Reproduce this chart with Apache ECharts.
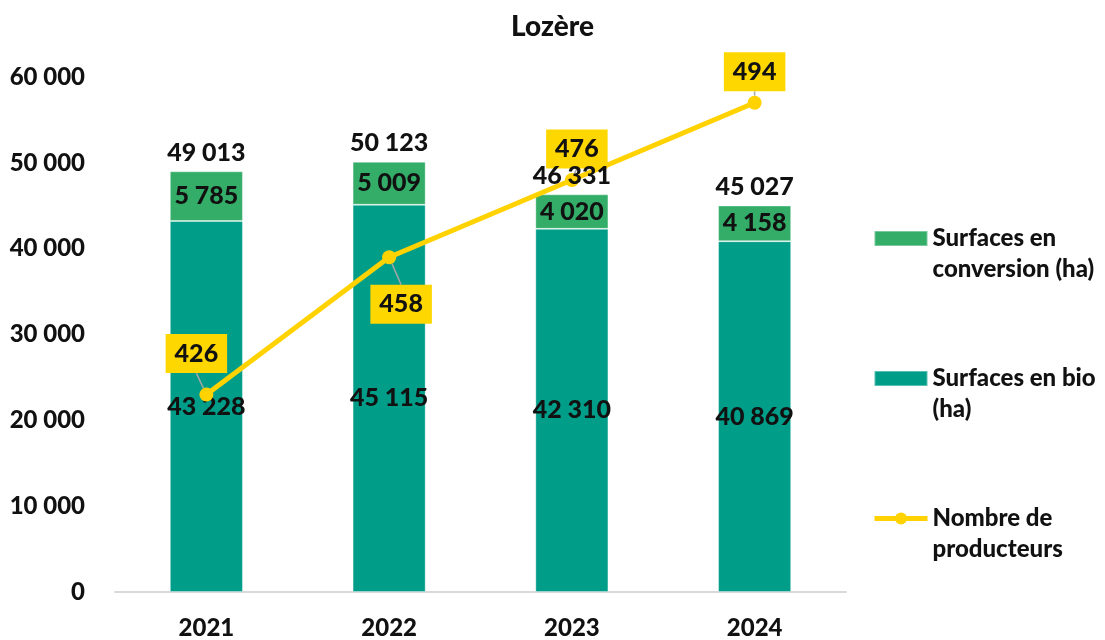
<!DOCTYPE html>
<html>
<head>
<meta charset="utf-8">
<script src="https://cdn.jsdelivr.net/npm/echarts@6/dist/echarts.min.js"></script>
<style>
  html, body { margin: 0; padding: 0; background: #fff; }
  #chart { width: 1105px; height: 640px; }
</style>
</head>
<body>
<div id="chart"></div>
<script>
const years = ['2021', '2022', '2023', '2024'];
const bioHa = [43228, 45115, 42310, 40869];
const conversionHa = [5785, 5009, 4020, 4158];
const totalHa = [49013, 50123, 46331, 45027];
const producteurs = [426, 458, 476, 494];

const FONT = 'Lato';
const fmt = v => String(v).replace(/\B(?=(\d{3})+(?!\d))/g, ' ');

// label offsets for the producer boxes (dx, dy from the point)
const boxOffsets = [[-10, -41], [12, 47], [5, -31], [0, -31]];

const legendNames = {
  'Surfaces en conversion (ha)': '\nSurfaces en\nconversion (ha)',
  'Surfaces en bio (ha)': '\nSurfaces en bio\n(ha)',
  'Nombre de producteurs': '\nNombre de\nproducteurs'
};

const chart = echarts.init(document.getElementById('chart'));

const dataLabel = {
  show: true,
  color: '#111',
  fontFamily: FONT,
  fontWeight: 900,
  fontSize: 25,
  formatter: p => fmt(p.value)
};

chart.setOption({
  animation: false,
  textStyle: { fontFamily: FONT },
  title: {
    text: 'Lozère',
    left: 'center',
    top: 8,
    textStyle: { fontFamily: FONT, fontWeight: 900, fontSize: 28, color: '#111' }
  },
  legend: {
    orient: 'vertical',
    left: 872,
    top: 192,
    padding: 0,
    itemWidth: 53,
    itemHeight: 15,
    itemGap: 47,
    data: [
      { name: 'Surfaces en conversion (ha)', icon: 'rect' },
      { name: 'Surfaces en bio (ha)', icon: 'rect' },
      { name: 'Nombre de producteurs', lineStyle: { width: 5 } }
    ],
    formatter: n => legendNames[n],
    textStyle: { fontFamily: FONT, fontWeight: 900, fontSize: 24, color: '#111', lineHeight: 31 }
  },
  grid: { left: 115, right: 259, top: 77, bottom: 45 },
  xAxis: {
    type: 'category',
    data: years,
    axisTick: { show: false },
    axisLine: { lineStyle: { color: '#d9d9d9', width: 2 } },
    axisLabel: { margin: 24, color: '#111', fontFamily: FONT, fontWeight: 900, fontSize: 24 }
  },
  yAxis: [
    {
      type: 'value',
      min: 0,
      max: 60000,
      interval: 10000,
      splitLine: { show: false },
      axisLine: { show: false },
      axisTick: { show: false },
      axisLabel: { margin: 30, color: '#111', fontFamily: FONT, fontWeight: 900, fontSize: 24, formatter: fmt }
    },
    { type: 'value', min: 380, max: 500, show: false }
  ],
  series: [
    {
      name: 'Surfaces en bio (ha)',
      type: 'bar',
      stack: 'surf',
      barWidth: '40%',
      data: bioHa,
      itemStyle: { color: '#009D89', borderColor: 'rgba(255,255,255,0.35)', borderWidth: 1 },
      label: Object.assign({ position: 'inside' }, dataLabel)
    },
    {
      name: 'Surfaces en conversion (ha)',
      type: 'bar',
      stack: 'surf',
      barWidth: '40%',
      data: conversionHa,
      itemStyle: { color: '#33AD68', borderColor: 'rgba(255,255,255,0.35)', borderWidth: 1 },
      label: Object.assign({ position: 'inside' }, dataLabel)
    },
    {
      name: 'Total',
      type: 'bar',
      barWidth: '40%',
      barGap: '-100%',
      data: totalHa,
      silent: true,
      z: 5,
      itemStyle: { color: 'rgba(0,0,0,0)' },
      label: Object.assign({ position: 'top', distance: 6 }, dataLabel)
    },
    {
      name: 'Nombre de producteurs',
      type: 'line',
      yAxisIndex: 1,
      data: producteurs,
      z: 3,
      symbol: 'circle',
      symbolSize: 14,
      lineStyle: { color: '#FFD200', width: 5 },
      itemStyle: { color: '#FFD200' },
      label: Object.assign({}, dataLabel, {
        position: 'inside',
        backgroundColor: '#FFD700',
        padding: [8, 9, 6, 9]
      }),
      labelLine: { show: true, lineStyle: { color: '#a6a6a6', width: 1.5 } },
      labelLayout: p => ({ dx: boxOffsets[p.dataIndex][0], dy: boxOffsets[p.dataIndex][1] })
    }
  ]
});
</script>
</body>
</html>
